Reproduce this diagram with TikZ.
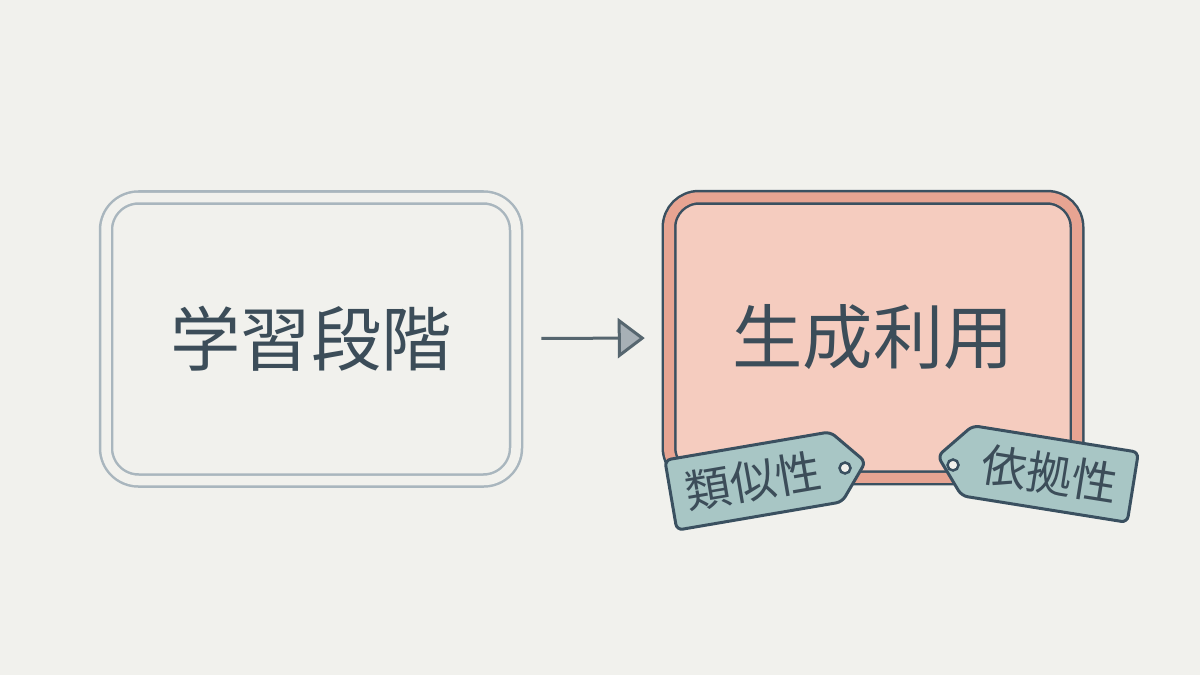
\documentclass[tikz,border=0pt]{standalone}
\usepackage{fontspec}
\usepackage{tikz}
\usetikzlibrary{shapes.symbols, arrows.meta, positioning}
\newfontfamily\jpfont{Noto Sans CJK JP}
\definecolor{paper}{HTML}{F1F1ED}
\definecolor{ink}{HTML}{3C4D59}
\definecolor{mist}{HTML}{A9B6BE}
\definecolor{rosefill}{HTML}{F5CCBF}
\definecolor{roseband}{HTML}{E7A492}
\definecolor{frame}{HTML}{3A5060}
\definecolor{tagfill}{HTML}{A8C6C5}
\definecolor{headgray}{HTML}{A7B0B6}
\definecolor{shaft}{HTML}{56666F}

\begin{document}
\begin{tikzpicture}[
    stage/.style={rectangle, rounded corners=0.65cm, minimum width=8.2cm,
        minimum height=5.66cm, text=ink, font=\jpfont\fontsize{40}{44}\selectfont},
    tagbox/.style={signal, signal pointer angle=100, draw=frame, fill=tagfill,
        line width=0.06cm, rounded corners=0.12cm, minimum width=3.95cm,
        minimum height=1.42cm, inner sep=0pt, text=ink,
        font=\jpfont\fontsize{26}{28}\selectfont},
    hole/.style={circle, draw=frame, fill=paper, line width=0.05cm,
        minimum size=0.22cm, inner sep=0pt}
]
    \fill[paper] (0,0) rectangle (24,13.5);
    \useasboundingbox (0,0) rectangle (24,13.5);

    % Stages
    \node[stage, draw=mist, double=paper, line width=0.05cm, double distance=0.19cm]
        (learn) at (6.22,6.72) {学習段階};
    \node[stage, draw=frame, double=roseband, fill=rosefill, line width=0.05cm,
        double distance=0.2cm, rounded corners=0.6cm, minimum width=8.16cm,
        minimum height=5.61cm] (use) at (17.46,6.75) {生成利用};

    % Flow
    \draw[-{Triangle[length=0.54cm, width=0.8cm, fill=headgray]}, draw=shaft,
        line width=0.06cm, shorten <=0.48cm, shorten >=0.46cm] (learn) -- (use);

    % Tags
    \node[tagbox, signal to=east, rotate=9.7] (simtag) at (15.07,3.88) {類似性};
    \node[tagbox, signal to=west, rotate=-9.1] (reltag) at (21.0,4.02) {依拠性};
    \node[hole] (simhole) at (16.9,4.14) {};
    \node[hole] (relhole) at (19.06,4.2) {};
\end{tikzpicture}
\end{document}
